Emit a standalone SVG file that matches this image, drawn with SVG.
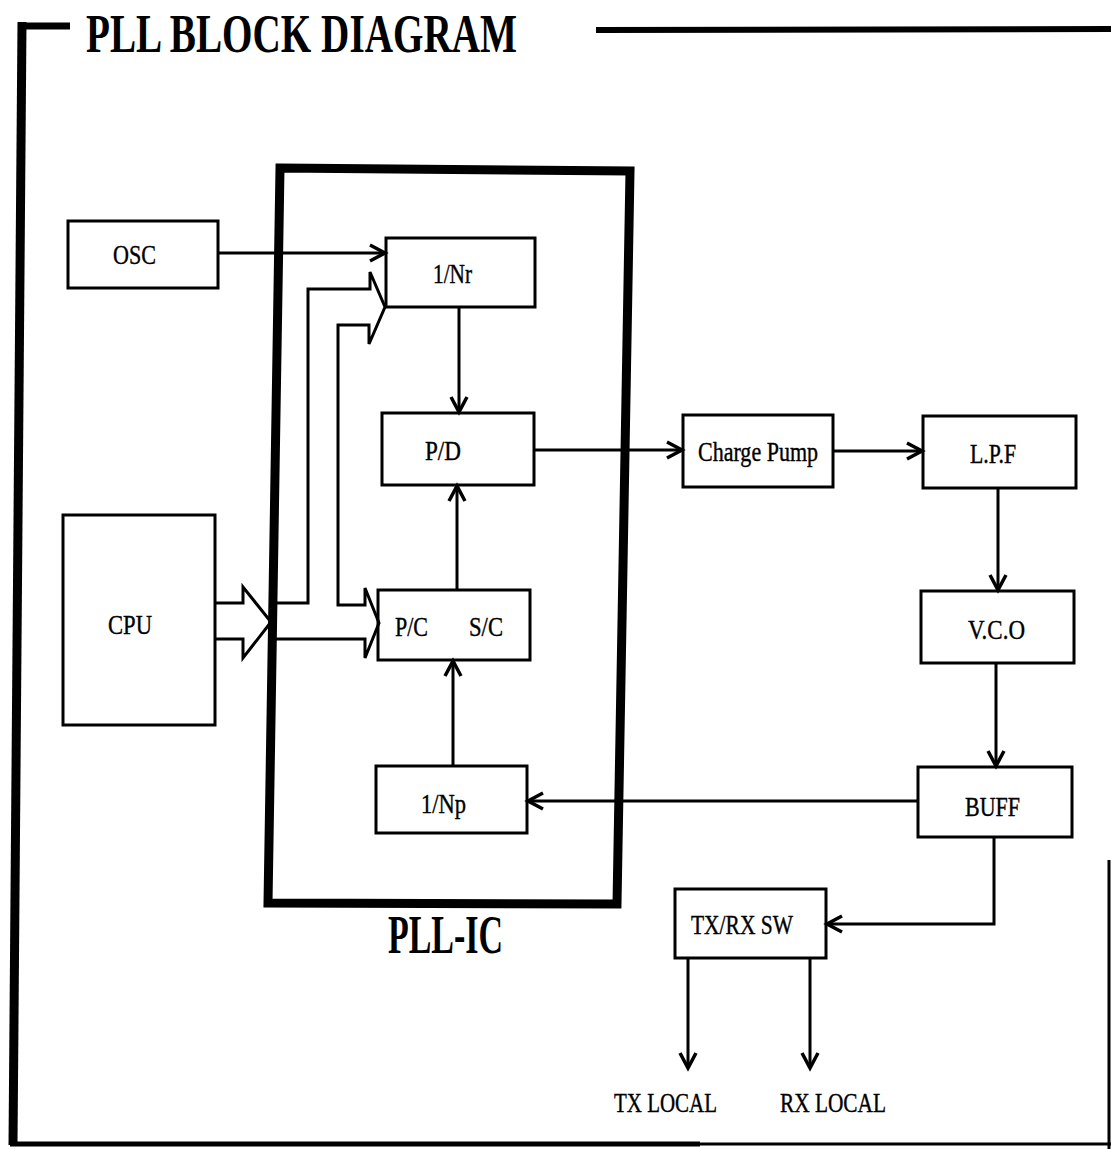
<svg xmlns="http://www.w3.org/2000/svg" width="1111" height="1149" viewBox="0 0 1111 1149">
<style>
.box{fill:#fff;stroke:#000;stroke-width:3}
.ln{fill:none;stroke:#000;stroke-width:3}
.lbl{font-family:"Liberation Serif","Times New Roman",serif;font-size:28px;fill:#000;stroke:#000;stroke-width:0.4}
.big{font-family:"Liberation Serif","Times New Roman",serif;font-size:55px;font-weight:bold;fill:#000}
</style>
<defs>
<marker id="ah" markerUnits="userSpaceOnUse" markerWidth="22" markerHeight="22" refX="18" refY="10" orient="auto">
<path d="M3,2 L18,10 L3,18" fill="none" stroke="#000" stroke-width="3.5"/>
</marker>
</defs>
<rect width="1111" height="1149" fill="#fff"/>
<g id="frame">
<line x1="22" y1="22" x2="13" y2="1145" stroke="#000" stroke-width="9"/>
<line x1="18" y1="26" x2="70" y2="26" stroke="#000" stroke-width="7"/>
<line x1="596" y1="30" x2="1111" y2="29" stroke="#000" stroke-width="6"/>
<line x1="10" y1="1144" x2="700" y2="1144" stroke="#000" stroke-width="5"/>
<line x1="700" y1="1144" x2="1111" y2="1144" stroke="#000" stroke-width="3"/>
<line x1="1109" y1="860" x2="1109" y2="1149" stroke="#000" stroke-width="3"/>
<text class="big" x="86" y="52" textLength="431" lengthAdjust="spacingAndGlyphs">PLL BLOCK DIAGRAM</text>
</g>
<g id="pll-ic">
<polygon points="280,168 630,171 617,904 268,903" fill="none" stroke="#000" stroke-width="9"/>
<text class="big" x="388" y="953" font-size="52" textLength="115" lengthAdjust="spacingAndGlyphs">PLL-IC</text>
</g>
<g id="osc"><rect class="box" x="68" y="221" width="150" height="67"/><text class="lbl" x="113" y="264" textLength="43" lengthAdjust="spacingAndGlyphs">OSC</text></g>
<g id="cpu"><rect class="box" x="63" y="515" width="152" height="210"/><text class="lbl" x="108" y="634" textLength="44" lengthAdjust="spacingAndGlyphs">CPU</text></g>
<g id="nr"><rect class="box" x="386" y="238" width="149" height="69"/><text class="lbl" x="433" y="283" textLength="39" lengthAdjust="spacingAndGlyphs">1/Nr</text></g>
<g id="pd"><rect class="box" x="382" y="413" width="152" height="72"/><text class="lbl" x="425" y="460" textLength="36" lengthAdjust="spacingAndGlyphs">P/D</text></g>
<g id="pcsc"><rect class="box" x="378" y="590" width="152" height="70"/><text class="lbl" x="395" y="636" textLength="33" lengthAdjust="spacingAndGlyphs">P/C</text><text class="lbl" x="469" y="636" textLength="34" lengthAdjust="spacingAndGlyphs">S/C</text></g>
<g id="np"><rect class="box" x="376" y="766" width="151" height="67"/><text class="lbl" x="421" y="813" textLength="45" lengthAdjust="spacingAndGlyphs">1/Np</text></g>
<g id="cp"><rect class="box" x="683" y="415" width="150" height="72"/><text class="lbl" x="698" y="461" textLength="120" lengthAdjust="spacingAndGlyphs">Charge Pump</text></g>
<g id="lpf"><rect class="box" x="923" y="416" width="153" height="72"/><text class="lbl" x="970" y="463" textLength="46" lengthAdjust="spacingAndGlyphs">L.P.F</text></g>
<g id="vco"><rect class="box" x="921" y="591" width="153" height="72"/><text class="lbl" x="968" y="639" textLength="57" lengthAdjust="spacingAndGlyphs">V.C.O</text></g>
<g id="buff"><rect class="box" x="918" y="767" width="154" height="70"/><text class="lbl" x="965" y="816" textLength="55" lengthAdjust="spacingAndGlyphs">BUFF</text></g>
<g id="txrx"><rect class="box" x="675" y="889" width="151" height="69"/><text class="lbl" x="691" y="934" textLength="102" lengthAdjust="spacingAndGlyphs">TX/RX SW</text></g>
<g id="txlocal"><text class="lbl" x="614" y="1112" textLength="103" lengthAdjust="spacingAndGlyphs">TX LOCAL</text></g>
<g id="rxlocal"><text class="lbl" x="780" y="1112" textLength="106" lengthAdjust="spacingAndGlyphs">RX LOCAL</text></g>
<g id="connectors">
<path class="ln" d="M218,253 H385" marker-end="url(#ah)"/>
<path class="ln" d="M459,307 V412" marker-end="url(#ah)"/>
<path class="ln" d="M457,590 V486" marker-end="url(#ah)"/>
<path class="ln" d="M453,766 V661" marker-end="url(#ah)"/>
<path class="ln" d="M534,450 H682" marker-end="url(#ah)"/>
<path class="ln" d="M833,451 H922" marker-end="url(#ah)"/>
<path class="ln" d="M998,488 V590" marker-end="url(#ah)"/>
<path class="ln" d="M996,663 V766" marker-end="url(#ah)"/>
<path class="ln" d="M918,801 H528" marker-end="url(#ah)"/>
<path class="ln" d="M994,837 V924 H827" marker-end="url(#ah)"/>
<path class="ln" d="M688,958 V1068" marker-end="url(#ah)"/>
<path class="ln" d="M810,958 V1068" marker-end="url(#ah)"/>
<path class="ln" d="M215,603 H243 V587 L271,622 L243,658 V639 H215"/>
<path class="ln" d="M277,603 H308 V289 H370 V272 L385,307 L369,344 V325 H338 V605 H365 V588 L379,623 L365,658 V639 H276"/>
</g>
</svg>
